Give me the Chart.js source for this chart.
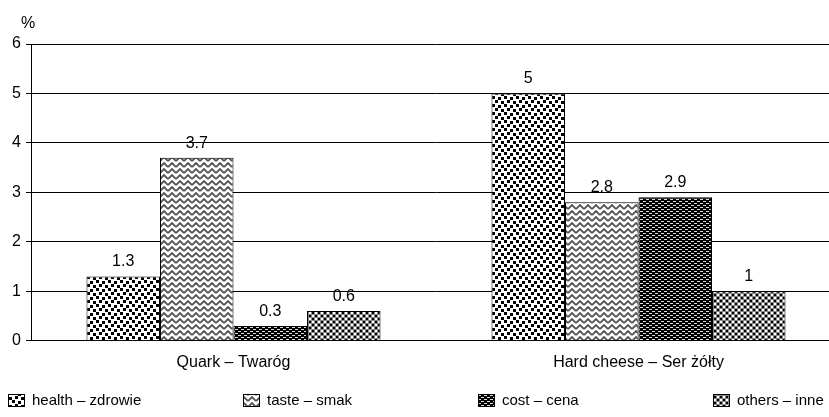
<!DOCTYPE html>
<html><head><meta charset="utf-8">
<script src="https://cdn.jsdelivr.net/npm/chart.js@4/dist/chart.umd.min.js"></script>
<style>
html,body{margin:0;padding:0;background:#fff;overflow:hidden}
#wrap{position:relative;width:841px;height:417px}
</style></head><body>
<div id="wrap"><canvas id="c"></canvas></div>
<script>
const categories = ["Quark – Twaróg","Hard cheese – Ser żółty"];
const seriesNames = ["health – zdrowie","taste – smak","cost – cena","others – inne"];
const health = [1.3, 5];
const taste = [3.7, 2.8];
const cost = [0.3, 2.9];
const others = [0.6, 1];
const yTicks = [0,1,2,3,4,5,6];
const unit = "%";

// small bitmap fills that imitate the print patterns
function makePattern(kind){
  const t=document.createElement("canvas"), g=t.getContext("2d");
  if(kind==="health"){
    t.width=12;t.height=8;g.fillStyle="#fff";g.fillRect(0,0,12,8);g.fillStyle="#000";
    [[0,0],[6,1],[3,4],[9,5]].forEach(p=>g.fillRect(p[0],p[1],3,3));
  } else if(kind==="taste"){
    t.width=8;t.height=6;g.fillStyle="#fff";g.fillRect(0,0,8,6);
    g.strokeStyle="#555";g.lineWidth=1.8;
    g.beginPath();g.moveTo(0,5);g.lineTo(4,1);g.lineTo(8,5);g.stroke();
  } else if(kind==="cost"){
    t.width=6;t.height=4;g.fillStyle="#000";g.fillRect(0,0,6,4);g.fillStyle="#ddd";
    g.fillRect(1,1,3,1);g.fillRect(4,3,2,1);g.fillRect(0,3,1,1);
  } else {
    t.width=6;t.height=6;g.fillStyle="#fff";g.fillRect(0,0,6,6);g.fillStyle="#000";
    g.fillRect(0,0,2,2);g.fillRect(3,3,2,2);g.fillStyle="#888";
    g.fillRect(2,0,1,6);g.fillRect(5,0,1,6);g.fillRect(0,2,6,1);g.fillRect(0,5,6,1);
  }
  return g.createPattern(t,"repeat");
}
const fills=[makePattern("health"),makePattern("taste"),makePattern("cost"),makePattern("others")];
const seriesData=[health,taste,cost,others];
const FONT="'Liberation Sans', Arial, sans-serif";

const valueLabels={id:"valueLabels",afterDatasetsDraw(chart){
  const ctx=chart.ctx;ctx.save();
  ctx.font="16px "+FONT;ctx.fillStyle="#000";
  ctx.textAlign="center";ctx.textBaseline="alphabetic";
  chart.data.datasets.forEach((ds,i)=>{
    chart.getDatasetMeta(i).data.forEach((bar,j)=>{
      ctx.fillText(String(ds.data[j]),bar.x,bar.y-10);
    });
  });
  const a=chart.chartArea;
  ctx.fillText(unit,a.left-3,a.top-16);
  ctx.restore();
}};

const legendRow={id:"legendRow",afterDraw(chart){
  const ctx=chart.ctx;ctx.save();
  ctx.font="15px "+FONT;ctx.fillStyle="#000";
  ctx.textBaseline="middle";
  const y=400, step=235;
  seriesNames.forEach((n,i)=>{
    const x=8+i*step;
    ctx.fillStyle=fills[i];ctx.fillRect(x,y-6,17,13);
    ctx.strokeStyle="#000";ctx.lineWidth=1;ctx.strokeRect(x+0.5,y-5.5,16,12);
    ctx.fillStyle="#000";ctx.fillText(n,x+24,y+1);
  });
  ctx.restore();
}};

new Chart(document.getElementById("c"),{
  type:"bar",
  data:{labels:categories,datasets:seriesNames.map((n,i)=>({
    label:n,data:seriesData[i],backgroundColor:fills[i],borderColor:"#000",borderWidth:1,
    categoryPercentage:0.726,barPercentage:1
  }))},
  options:{
    responsive:true,maintainAspectRatio:false,animation:false,
    layout:{padding:{top:44,bottom:41,left:0,right:0}},
    plugins:{legend:{display:false},tooltip:{enabled:false}},
    scales:{
      x:{grid:{display:false},border:{color:"#000",width:1},
         ticks:{color:"#000",padding:4,font:{size:16,family:FONT}}},
      y:{min:0,max:6,afterFit:s=>{s.width=31;},
         afterBuildTicks:s=>{s.ticks=yTicks.map(v=>({value:v}));},
         grid:{color:"#000",lineWidth:1,tickLength:5},
         border:{color:"#000",width:1},
         ticks:{color:"#000",padding:5,font:{size:16,family:FONT}}}
    }
  },
  plugins:[valueLabels,legendRow]
});
</script>
</body></html>
